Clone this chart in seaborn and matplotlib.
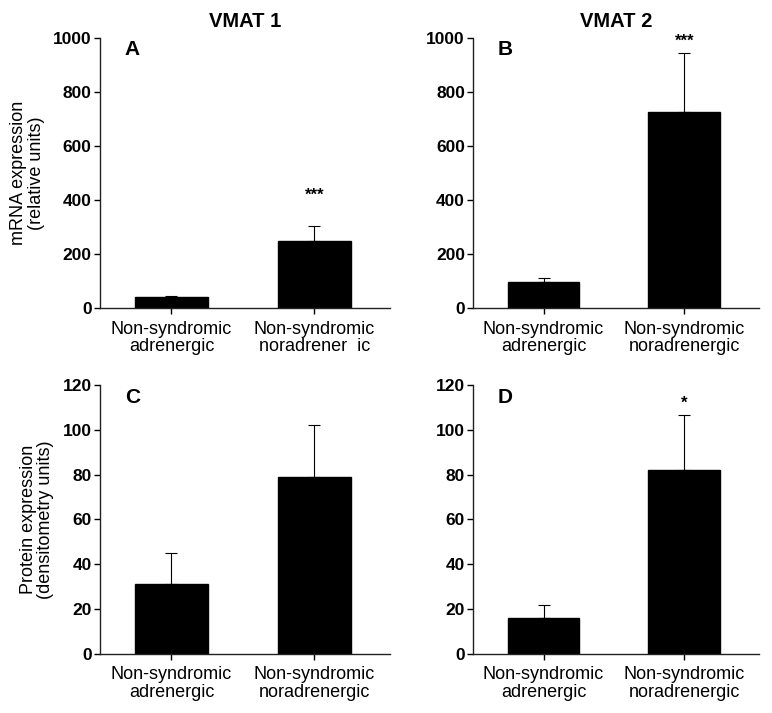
import matplotlib
matplotlib.use("Agg")
import matplotlib.pyplot as plt
import seaborn as sns
import pandas as pd

# --- data ---
groups_top = ["Non-syndromic\nadrenergic", "Non-syndromic\nnoradrener  ic"]
groups = ["Non-syndromic\nadrenergic", "Non-syndromic\nnoradrenergic"]

mrna_vmat1 = [40, 247]
mrna_vmat1_err = [6, 58]
mrna_vmat2 = [95, 725]
mrna_vmat2_err = [16, 220]

prot_vmat1 = [31, 79]
prot_vmat1_err = [14, 23]
prot_vmat2 = [16, 82]
prot_vmat2_err = [6, 24.5]

stars_a = ["", "***"]
stars_b = ["", "***"]
stars_c = ["", ""]
stars_d = ["", "*"]

sns.set_style("ticks")
plt.rcParams["font.family"] = ["Liberation Sans", "DejaVu Sans"]
plt.rcParams["text.color"] = "black"
plt.rcParams["xtick.color"] = "black"
plt.rcParams["ytick.color"] = "black"
plt.rcParams["axes.labelcolor"] = "black"
plt.rcParams["axes.edgecolor"] = "black"

fig = plt.figure(figsize=(7.72, 7.13), dpi=100)
ax_a = fig.add_axes([0.1295, 0.568, 0.376, 0.379])
ax_b = fig.add_axes([0.613, 0.568, 0.370, 0.379])
ax_c = fig.add_axes([0.1295, 0.083, 0.376, 0.377])
ax_d = fig.add_axes([0.613, 0.083, 0.370, 0.377])


def panel(ax, labels, vals, errs, stars, ymax, yticks, letter, star_pos):
    df = pd.DataFrame({"group": labels, "value": vals})
    sns.barplot(data=df, x="group", y="value", ax=ax, color="black",
                edgecolor="black", width=0.51, saturation=1, errorbar=None)
    ax.errorbar(range(len(vals)), vals, yerr=[[0] * len(vals), errs],
                fmt="none", ecolor="black", elinewidth=0.8, capsize=4,
                capthick=0.8, zorder=3)
    for i, s in enumerate(stars):
        if s:
            ax.text(i, star_pos[i], s, ha="center", va="bottom",
                    fontsize=12, fontweight="bold")
    ax.set_ylim(0, ymax)
    ax.set_yticks(yticks)
    ax.set_xlim(-0.5, 1.53)
    ax.set_xlabel("")
    ax.set_ylabel("")
    sns.despine(ax=ax)
    for sp in ["left", "bottom"]:
        ax.spines[sp].set_linewidth(1.0)
        ax.spines[sp].set_color("#222222")
    ax.tick_params(axis="y", direction="out", length=4, width=1,
                   labelsize=12.5, pad=2)
    ax.tick_params(axis="x", direction="out", length=4, width=1,
                   labelsize=13, pad=5)
    for t in ax.get_yticklabels():
        t.set_fontweight("bold")
    for t in ax.get_xticklabels():
        t.set_linespacing(1.05)
    ax.text(0.085, 0.99, letter, transform=ax.transAxes, ha="left",
            va="top", fontsize=15, fontweight="bold")


panel(ax_a, groups_top, mrna_vmat1, mrna_vmat1_err, stars_a, 1000,
      range(0, 1001, 200), "A", [0, 390])
panel(ax_b, groups, mrna_vmat2, mrna_vmat2_err, stars_b, 1000,
      range(0, 1001, 200), "B", [0, 960])
panel(ax_c, groups, prot_vmat1, prot_vmat1_err, stars_c, 120,
      range(0, 121, 20), "C", [0, 0])
panel(ax_d, groups, prot_vmat2, prot_vmat2_err, stars_d, 120,
      range(0, 121, 20), "D", [0, 108.5])

ax_a.set_title("VMAT 1", fontsize=14.5, fontweight="bold", pad=8)
ax_b.set_title("VMAT 2", fontsize=14.5, fontweight="bold", pad=8)

ax_a.set_ylabel("mRNA expression\n(relative units)", fontsize=13,
                labelpad=6, linespacing=1.05)
ax_c.set_ylabel("Protein expression\n(densitometry units)", fontsize=13,
                labelpad=6, linespacing=1.05)

fig.savefig("out.png", dpi=100, facecolor="white")
